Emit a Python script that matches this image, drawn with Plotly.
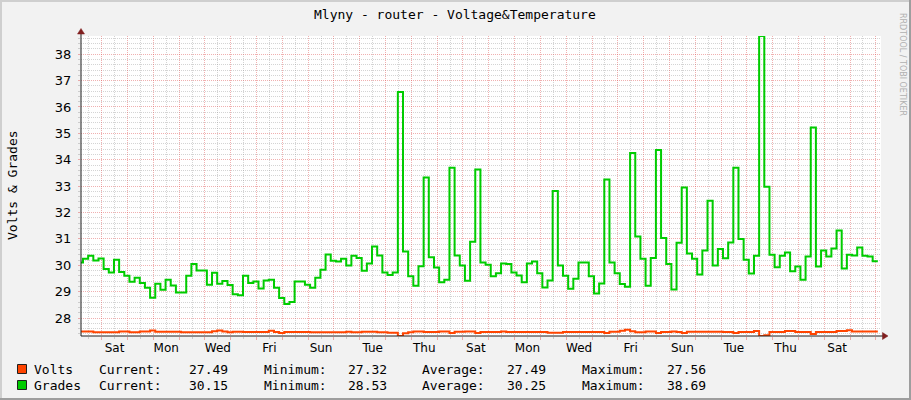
import plotly.graph_objects as go

# ---------------- data (x in days, 0 = first midnight shown) ----------------
SERIES_START = -0.9246      # start of first consolidated step (days)
STEP = 0.2                  # step length (days)

GRADES = [30.11, 30.25, 30.36, 30.18, 30.26, 29.86, 29.73, 30.21, 29.75, 29.60,
          29.38, 29.53, 29.33, 29.15, 28.77, 29.30, 29.07, 29.45, 29.23, 28.97,
          28.97, 29.60, 30.05, 29.80, 29.80, 29.26, 29.72, 29.30, 29.40, 29.25,
          28.90, 28.86, 29.60, 29.33, 29.39, 29.12, 29.42, 29.45, 29.15, 28.76,
          28.53, 28.61, 29.39, 29.39, 29.26, 29.15, 29.53, 29.83, 30.41, 30.17,
          30.14, 30.25, 29.99, 30.36, 30.28, 29.79, 30.07, 30.71, 30.37, 29.73,
          29.63, 29.73, 36.57, 30.52, 29.58, 29.22, 29.96, 33.33, 30.30, 29.92,
          29.36, 29.45, 33.70, 30.37, 29.99, 29.41, 30.89, 33.63, 30.11, 30.02,
          29.58, 29.70, 30.07, 30.05, 29.73, 29.61, 29.36, 30.07, 30.14, 29.70,
          29.16, 29.42, 32.82, 29.99, 29.60, 29.11, 29.49, 30.11, 30.11, 29.58,
          28.93, 29.31, 33.25, 30.11, 29.70, 29.29, 29.19, 34.26, 31.09, 30.25,
          29.22, 30.28, 34.37, 31.03, 30.05, 29.08, 30.85, 32.95, 30.45, 30.25,
          29.65, 30.56, 32.45, 29.99, 30.62, 30.27, 30.86, 33.70, 31.00, 30.21,
          29.69, 30.36, 38.69, 32.98, 30.40, 29.93, 30.36, 30.48, 29.77, 29.95,
          29.45, 30.33, 35.22, 29.95, 30.56, 30.33, 30.64, 31.32, 29.88, 30.40,
          30.37, 30.67, 30.36, 30.33, 30.15]

VOLTS = [27.49, 27.49, 27.49, 27.46, 27.46, 27.46, 27.46, 27.46, 27.49, 27.49,
         27.46, 27.46, 27.49, 27.49, 27.53, 27.48, 27.48, 27.48, 27.48, 27.48,
         27.46, 27.46, 27.46, 27.46, 27.46, 27.46, 27.50, 27.53, 27.49, 27.46,
         27.48, 27.48, 27.47, 27.47, 27.47, 27.47, 27.47, 27.52, 27.47, 27.43,
         27.47, 27.47, 27.47, 27.47, 27.47, 27.46, 27.46, 27.46, 27.46, 27.46,
         27.46, 27.46, 27.48, 27.46, 27.46, 27.48, 27.48, 27.48, 27.46, 27.46,
         27.44, 27.44, 27.32, 27.42, 27.46, 27.49, 27.49, 27.47, 27.47, 27.47,
         27.49, 27.49, 27.43, 27.48, 27.48, 27.49, 27.49, 27.43, 27.47, 27.47,
         27.47, 27.47, 27.49, 27.47, 27.47, 27.47, 27.47, 27.47, 27.47, 27.47,
         27.47, 27.44, 27.44, 27.44, 27.47, 27.47, 27.47, 27.47, 27.47, 27.47,
         27.47, 27.47, 27.43, 27.48, 27.48, 27.52, 27.56, 27.50, 27.46, 27.46,
         27.49, 27.49, 27.43, 27.47, 27.47, 27.49, 27.47, 27.43, 27.48, 27.48,
         27.48, 27.48, 27.48, 27.48, 27.48, 27.47, 27.47, 27.43, 27.47, 27.47,
         27.47, 27.51, 27.32, 27.35, 27.47, 27.47, 27.47, 27.51, 27.51, 27.47,
         27.47, 27.47, 27.40, 27.47, 27.47, 27.47, 27.47, 27.51, 27.51, 27.54,
         27.49, 27.49, 27.49, 27.49, 27.49]

DAY_LABEL_POS = [0.5, 2.5, 4.5, 6.5, 8.5, 10.5, 12.5, 14.5, 16.5, 18.5, 20.5, 22.5, 24.5, 26.5, 28.5]
DAY_LABELS = ['Sat', 'Mon', 'Wed', 'Fri', 'Sun', 'Tue', 'Thu', 'Sat', 'Mon', 'Wed',
              'Fri', 'Sun', 'Tue', 'Thu', 'Sat']

X_RANGE = [-0.802, 30.198]
Y_RANGE = [27.32, 38.69]

LEGEND_ROWS = [
    ('Volts', '#FF4400', ['Current:', '27.49', 'Minimum:', '27.32', 'Average:', '27.49', 'Maximum:', '27.56']),
    ('Grades', '#00CC00', ['Current:', '30.15', 'Minimum:', '28.53', 'Average:', '30.25', 'Maximum:', '38.69']),
]

TITLE = 'Mlyny - router - Voltage&Temperature'
Y_TITLE = 'Volts & Grades'
WATERMARK = 'RRDTOOL / TOBI OETIKER'

# ---------------- geometry helpers (pixels -> paper) ----------------
W, H = 911, 400
ML, MR, MT, MB = 81, 30, 36, 64
PW, PH = W - ML - MR, H - MT - MB


def px(xp):
    return (xp - ML) / PW


def py(yp):
    return (H - MB - yp) / PH


def steps(vals):
    xs = [SERIES_START + STEP * i for i in range(len(vals) + 1)]
    ys = list(vals) + [vals[-1]]
    return xs, ys


MONO = 'DejaVu Sans Mono'
SANS = 'DejaVu Sans'
GRID = 'rgba(143,143,143,0.38)'
MGRID = 'rgba(222,79,79,0.45)'
AXIS = '#1F1F1F'
ARROW = '#801F1F'

fig = go.Figure()

# empty trace to register the grid x-axis
fig.add_trace(go.Scatter(x=[], y=[], xaxis='x', yaxis='y', showlegend=False, hoverinfo='skip'))

vx, vy = steps(VOLTS)
fig.add_trace(go.Scatter(x=vx, y=vy, mode='lines', line=dict(color='#FF4400', width=2, shape='hv'),
                         xaxis='x2', yaxis='y', showlegend=False, name='Volts'))
gx, gy = steps(GRADES)
fig.add_trace(go.Scatter(x=gx, y=gy, mode='lines', line=dict(color='#00CC00', width=2, shape='hv'),
                         xaxis='x2', yaxis='y', showlegend=False, name='Grades'))

dash = '1px,1px'
fig.update_layout(
    width=W, height=H,
    margin=dict(l=ML, r=MR, t=MT, b=MB, pad=0),
    paper_bgcolor='#F2F2F2', plot_bgcolor='#FFFFFF',
    showlegend=False,
    xaxis=dict(range=X_RANGE, tick0=0, dtick=1, showgrid=True, gridcolor=MGRID, griddash=dash,
               gridwidth=1, showticklabels=False, ticks='outside', ticklen=3, tickcolor=MGRID,
               zeroline=False, showline=False, fixedrange=True,
               minor=dict(dtick=0.5, tick0=0, showgrid=True, gridcolor=GRID, griddash=dash,
                          ticks='outside', ticklen=2, tickcolor=GRID)),
    xaxis2=dict(range=X_RANGE, overlaying='x', anchor='y', side='bottom', showgrid=False,
                zeroline=False, showline=False, ticks='', tickmode='array',
                tickvals=DAY_LABEL_POS, ticktext=DAY_LABELS, ticklabelstandoff=3,
                tickfont=dict(family=SANS, size=12, color='#000000')),
    yaxis=dict(range=Y_RANGE, tick0=0, dtick=1, showgrid=True, gridcolor=MGRID, griddash=dash,
               gridwidth=1, ticks='outside', ticklen=2, tickcolor=MGRID, zeroline=False,
               showline=False, tickfont=dict(family=SANS, size=13, color='#000000'),
               ticklabelstandoff=4,
               minor=dict(dtick=0.2, showgrid=True, gridcolor=GRID, griddash=dash,
                          ticks='outside', ticklen=2, tickcolor=GRID)),
)

shapes = []
# outer frame shading
shapes.append(dict(type='rect', xref='paper', yref='paper', x0=px(0), x1=px(911), y0=py(0), y1=py(2),
                   fillcolor='#CFCFCF', line=dict(width=0), layer='below'))
shapes.append(dict(type='rect', xref='paper', yref='paper', x0=px(0), x1=px(2), y0=py(0), y1=py(400),
                   fillcolor='#CFCFCF', line=dict(width=0), layer='below'))
shapes.append(dict(type='rect', xref='paper', yref='paper', x0=px(909), x1=px(911), y0=py(0), y1=py(400),
                   fillcolor='#9E9E9E', line=dict(width=0), layer='below'))
shapes.append(dict(type='rect', xref='paper', yref='paper', x0=px(0), x1=px(911), y0=py(398), y1=py(400),
                   fillcolor='#9E9E9E', line=dict(width=0), layer='below'))
# axis lines
shapes.append(dict(type='line', xref='paper', yref='paper', x0=px(81), x1=px(884), y0=py(336), y1=py(336),
                   line=dict(color=AXIS, width=1)))
shapes.append(dict(type='line', xref='paper', yref='paper', x0=px(81), x1=px(81), y0=py(336), y1=py(32),
                   line=dict(color=AXIS, width=1)))
# arrows
shapes.append(dict(type='path', xref='paper', yref='paper',
                   path=f'M {px(81)} {py(28.5)} L {px(77.5)} {py(34)} L {px(84.5)} {py(34)} Z',
                   fillcolor=ARROW, line=dict(color=ARROW, width=0.5)))
shapes.append(dict(type='path', xref='paper', yref='paper',
                   path=f'M {px(888)} {py(336)} L {px(882.5)} {py(332.5)} L {px(882.5)} {py(339.5)} Z',
                   fillcolor=ARROW, line=dict(color=ARROW, width=0.5)))

annotations = []
annotations.append(dict(text=TITLE, xref='paper', yref='paper', x=px(455), y=py(15), showarrow=False,
                        xanchor='center', yanchor='middle', font=dict(family=MONO, size=13, color='#000000')))
annotations.append(dict(text=Y_TITLE, xref='paper', yref='paper', x=px(12), y=py(185), showarrow=False,
                        textangle=-90, xanchor='center', yanchor='middle',
                        font=dict(family=MONO, size=13, color='#000000')))
annotations.append(dict(text=WATERMARK, xref='paper', yref='paper', x=px(903), y=py(64), showarrow=False,
                        textangle=90, xanchor='center', yanchor='middle',
                        font=dict(family=SANS, size=8, color='#B0B0B0')))

# legend
LEG_ROW_Y = [369, 385]
LEG_COL_X = [97, 187, 262, 346, 420, 505, 580, 665]
for (name, color, items), ry in zip(LEGEND_ROWS, LEG_ROW_Y):
    shapes.append(dict(type='rect', xref='paper', yref='paper', x0=px(17.5), x1=px(26.5),
                       y0=py(ry - 4.5), y1=py(ry + 4.5), fillcolor=color,
                       line=dict(color='#1F1F1F', width=1)))
    annotations.append(dict(text=name, xref='paper', yref='paper', x=px(32), y=py(ry), showarrow=False,
                            xanchor='left', yanchor='middle', font=dict(family=MONO, size=13, color='#000000')))
    for txt, cx in zip(items, LEG_COL_X):
        annotations.append(dict(text=txt, xref='paper', yref='paper', x=px(cx), y=py(ry), showarrow=False,
                                xanchor='left', yanchor='middle',
                                font=dict(family=MONO, size=13, color='#000000')))

fig.update_layout(shapes=shapes, annotations=annotations)
fig.write_html('out.html', config={'displayModeBar': False},
               post_script="document.body.style.margin='0px';")
